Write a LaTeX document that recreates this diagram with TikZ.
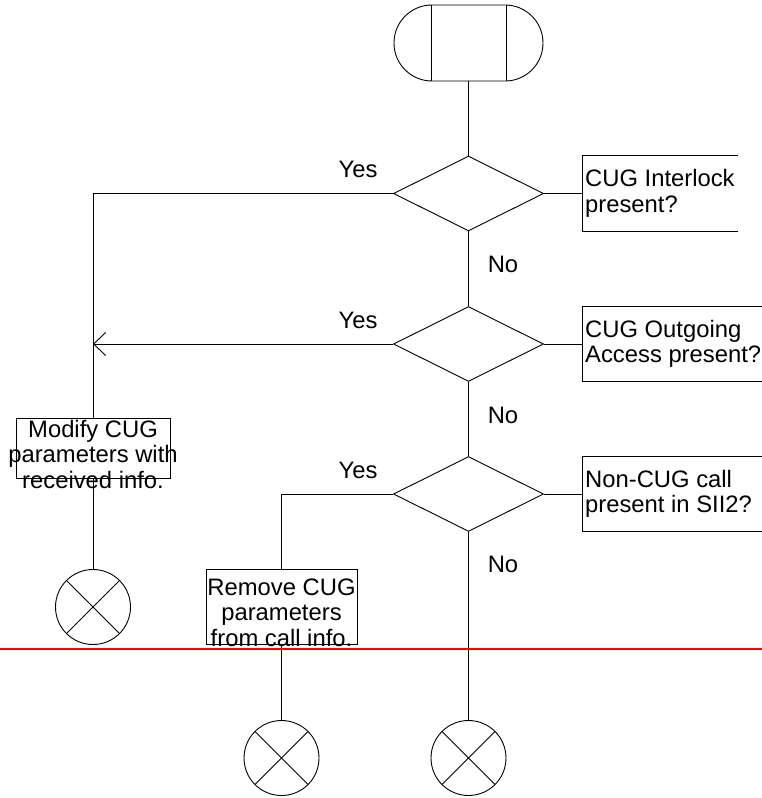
\documentclass[tikz,border=0pt]{standalone}
\usepackage{fontspec}
\setmainfont{Liberation Sans}
\usetikzlibrary{shapes.geometric,arrows.meta}
\tikzset{
    every node/.style={font=\fontsize{23.8}{25.5}\selectfont},
    flowline/.style={line width=0.9pt},
    terminal/.style={rectangle, draw, line width=0.9pt, rounded corners=37.9pt, minimum width=149pt, minimum height=76pt},
    decision/.style={diamond, draw, line width=0.9pt, aspect=2, inner sep=0pt, minimum width=150pt, minimum height=75pt},
    comment/.style={rectangle, anchor=west, align=flush left, inner xsep=3pt, inner ysep=0pt, minimum height=75pt},
    process/.style={rectangle, draw, line width=0.9pt, inner sep=0pt},
    proctext/.style={align=center, inner sep=0pt, yshift=-6pt},
    endsym/.style={circle, draw, line width=0.9pt, minimum size=75pt, inner sep=0pt,
        path picture={\draw[line width=0.9pt] (path picture bounding box.north west) -- (path picture bounding box.south east)
                      (path picture bounding box.north east) -- (path picture bounding box.south west);}}
}
\begin{document}
\begin{tikzpicture}[x=1pt,y=-1pt]
            \useasboundingbox (0,0) rectangle (762,798);
            % start symbol
            \node[terminal] (start) at (468.5,43) {};
            \draw[flowline] ([xshift=-37pt]start.north) -- ([xshift=-37pt]start.south)
                            ([xshift=38pt]start.north) -- ([xshift=38pt]start.south);
            % decisions and their comments
            \node[decision] (d1) at (468.5,193.5) {};
            \node[decision] (d2) at (468.5,344) {};
            \node[decision] (d3) at (468.5,494) {};
            \node[comment, text width=150pt] (c1) at (582,193.5) {CUG Interlock\\present?};
            \node[comment, text width=194pt] (c2) at (582,344) {CUG Outgoing\\Access present?};
            \node[comment, text width=194pt] (c3) at (582,494) {Non-CUG call\\present in SII2?};
            \foreach \c in {c1,c2,c3}
                \draw[flowline] (\c.north east) -- (\c.north west) -- (\c.south west) -- (\c.south east);
            % tasks
            \node[process, minimum width=154pt, minimum height=60pt,
                  label={[proctext]center:Modify CUG\\parameters with\\received info.}] (modify) at (93,448) {};
            \node[process, minimum width=151pt, minimum height=75pt,
                  label={[proctext]center:Remove CUG\\parameters\\from call info.}] (remove) at (281.5,606.5) {};
            % ends
            \node[endsym] (e1) at (93,607) {};
            \node[endsym] (e2) at (281.5,758) {};
            \node[endsym] (e3) at (468.5,758) {};
            % connectors
            \draw[flowline] (start.south) -- (d1.north);
            \draw[flowline] (d1.south) -- (d2.north);
            \draw[flowline] (d2.south) -- (d3.north);
            \draw[flowline] (d3.south) -- (e3.north);
            \foreach \d in {1,2,3}
                \draw[flowline] (d\d.east) -- (c\d.west);
            \draw[flowline] (d1.west) -| (modify.north);
            \draw[flowline, -{Straight Barb[length=12pt,width=23pt]}] (d2.west) -- (d2.west -| modify.north);
            \draw[flowline] (d3.west) -| (remove.north);
            \draw[flowline] (modify.south) -- (e1.north);
            \draw[flowline] (remove.south) -- (e2.north);
            % branch labels
            \node (yes1) at (358,169) {Yes};
            \node (yes2) at (358,320) {Yes};
            \node (yes3) at (358,470) {Yes};
            \node (no1) at (503,264) {No};
            \node (no2) at (503,415) {No};
            \node (no3) at (503,564) {No};
            % page break line
            \draw[red, line width=2pt] (0,649) -- (762,649);
\end{tikzpicture}
\end{document}
